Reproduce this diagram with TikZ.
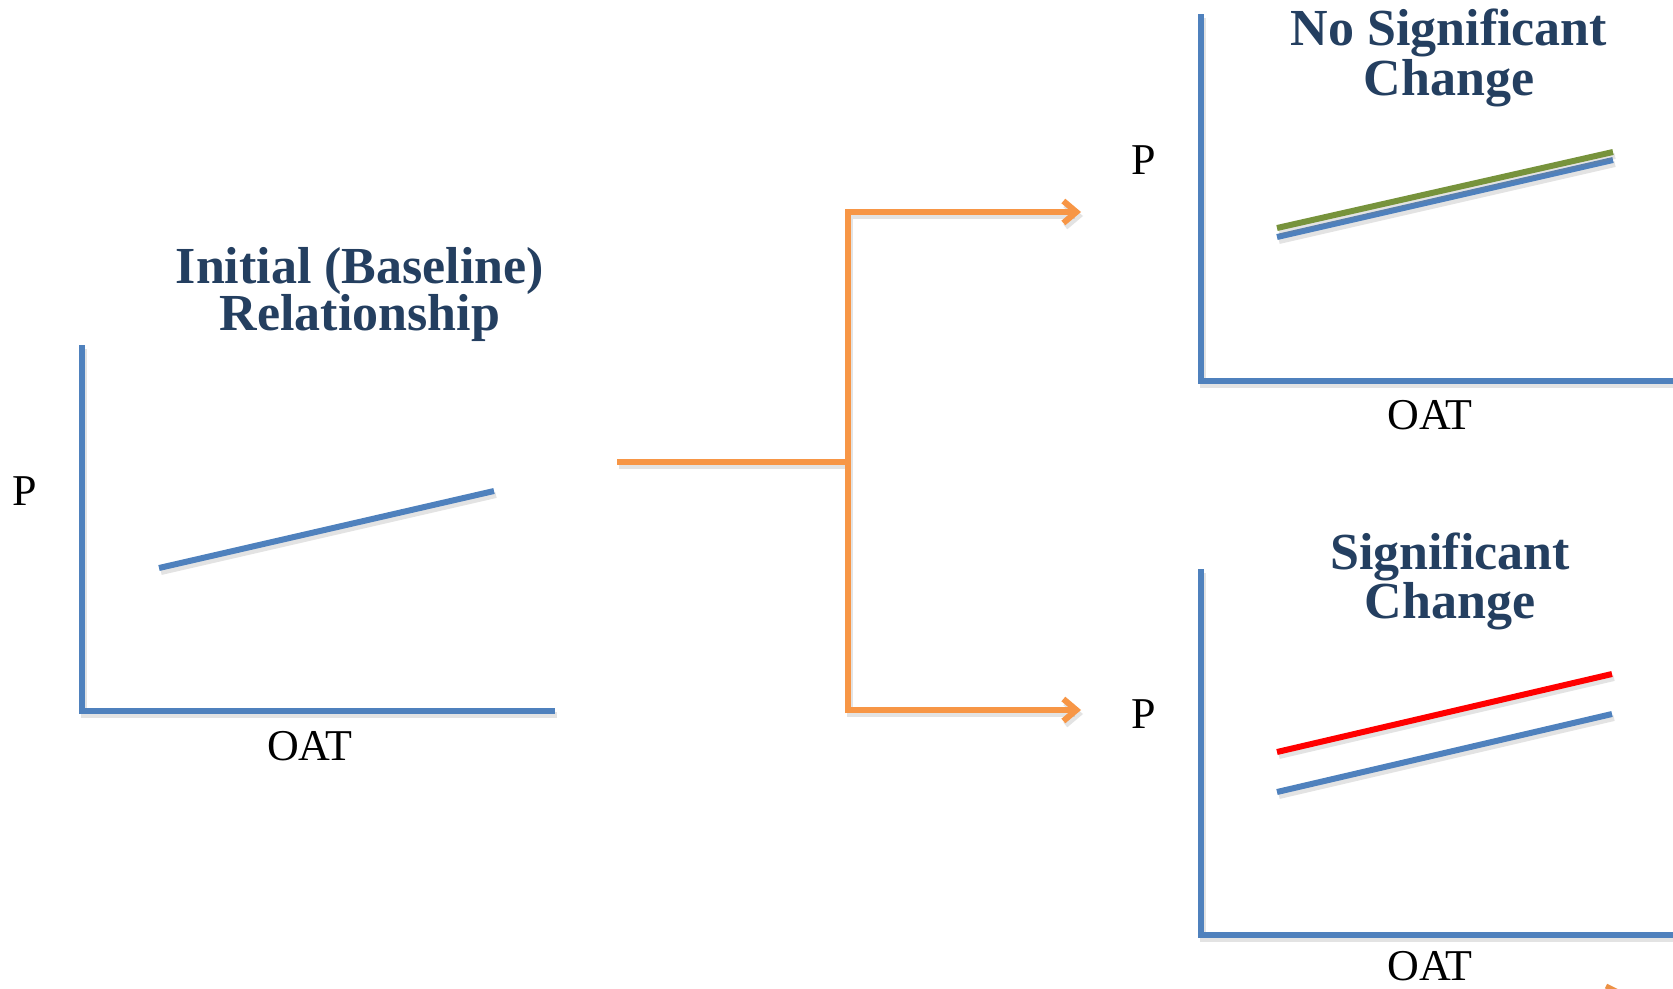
\documentclass[tikz,border=0pt]{standalone}
\usepackage{fontspec}
\setmainfont{Liberation Serif}
\usetikzlibrary{arrows.meta}
\definecolor{axblue}{HTML}{4F81BD}
\definecolor{conorange}{HTML}{F79646}
\definecolor{lngreen}{HTML}{77933C}
\definecolor{ttlblue}{HTML}{243F60}
\tikzset{
  shadowed/.style={preaction={draw=black!50, line width=6pt, opacity=0.22, transform canvas={shift={(2pt,-4pt)}}}},
  axis/.style={draw=axblue, line width=6pt, shadowed},
  trend/.style={line width=6pt, shadowed},
  conn/.style={draw=conorange, line width=6pt, shadowed},
  ttl/.style={anchor=base, inner sep=0pt, text=ttlblue, font=\fontsize{52}{52}\bfseries\selectfont},
  lbl/.style={anchor=base, inner sep=0pt, text=black, font=\fontsize{44}{44}\selectfont},
}
\begin{document}
\begin{tikzpicture}[x=1pt,y=-1pt]
\useasboundingbox (0,0) rectangle (1673,988);
% ---------- left plot ----------
\coordinate (Ltop) at (82,345);
\coordinate (Lorig) at (82,711);
\coordinate (Lend) at (555,711);
\draw[axis] (Ltop) -- (Lorig) -- (Lend);
\coordinate (La) at (159,568);
\coordinate (Lb) at (494,491);
\draw[trend, draw=axblue] (La) -- (Lb);
\node[ttl] (t1a) at (360,283) {Initial (Baseline)};
\node[ttl] (t1b) at (360,330) {Relationship};
\node[lbl] (p1) at (25,505) {P};
\node[lbl] (o1) at (310,760) {OAT};
% ---------- top-right plot ----------
\coordinate (Ttop) at (1201,14);
\coordinate (Torig) at (1201,381);
\coordinate (Tend) at (1680,381);
\draw[axis] (Ttop) -- (Torig) -- (Tend);
\coordinate (Tga) at (1277,228);
\coordinate (Tgb) at (1613,152);
\coordinate (Tba) at (1277,237);
\coordinate (Tbb) at (1613,160);
\draw[trend, draw=axblue] (Tba) -- (Tbb);
\draw[trend, draw=lngreen] (Tga) -- (Tgb);
\node[ttl] (t2a) at (1449,45) {No Significant};
\node[ttl] (t2b) at (1449,95) {Change};
\node[lbl] (p2) at (1144,174) {P};
\node[lbl] (o2) at (1430,429) {OAT};
% ---------- bottom-right plot ----------
\coordinate (Btop) at (1201,569);
\coordinate (Borig) at (1201,935);
\coordinate (Bend) at (1680,935);
\draw[axis] (Btop) -- (Borig) -- (Bend);
\coordinate (Bra) at (1277,752);
\coordinate (Brb) at (1612,674);
\coordinate (Bba) at (1277,792);
\coordinate (Bbb) at (1612,714);
\draw[trend, draw=red] (Bra) -- (Brb);
\draw[trend, draw=axblue] (Bba) -- (Bbb);
\node[ttl] (t3a) at (1450,569) {Significant};
\node[ttl] (t3b) at (1450,618) {Change};
\node[lbl] (p3) at (1144,728) {P};
\node[lbl] (o3) at (1430,980) {OAT};
% ---------- connectors ----------
\coordinate (src) at (617,462);
\coordinate (jn) at (848,462);
\coordinate (topend) at (1081,212);
\coordinate (botend) at (1081,710);
\draw[conn] (src) -- (jn);
\draw[conn, -{Straight Barb[length=13pt,width=22pt]}] (jn) |- (topend);
\draw[conn, -{Straight Barb[length=13pt,width=22pt]}] (jn) |- (botend);
% small fragment at bottom edge
\coordinate (fa) at (1606,986);
\coordinate (fb) at (1622,994);
\draw[draw=conorange!80!brown, line width=5pt] (fa) -- (fb);
\end{tikzpicture}
\end{document}
